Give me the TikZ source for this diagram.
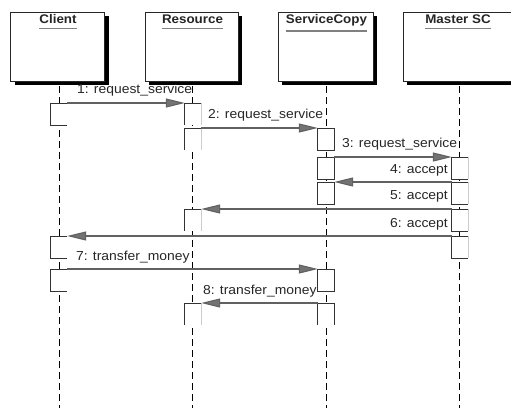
\documentclass[tikz,border=0pt]{standalone}
\usepackage{fontspec}
\setmainfont{Liberation Sans}[FakeStretch=1.07]
\usetikzlibrary{arrows.meta,shadows}

\begin{document}
\begin{tikzpicture}[x=1pt,y=-1pt,
  objbox/.style={draw=black!85, line width=0.9pt, fill=white,
    minimum width=#1, minimum height=69pt, inner sep=0pt,
    drop shadow={shadow xshift=4pt, shadow yshift=-4pt, fill=black, opacity=1}},
  objname/.style={anchor=base, inner sep=0pt, text=black!85,
    font=\fontsize{12.5}{14}\selectfont\bfseries},
  uline/.style={draw=black!50, line width=1.5pt},
  life/.style={draw=black, line width=0.9pt, dash pattern=on 7pt off 4pt},
  act/.style={minimum width=16pt, minimum height=22pt, inner sep=0pt,
    fill=white, anchor=north},
  actedge/.style={draw=black!80, line width=1pt},
  actfaint/.style={draw=black!20, line width=0.8pt},
  msg/.style={draw=black!62, line width=1.1pt,
    -{Triangle[length=19pt,width=9pt,fill=black!55]}},
  msglabel/.style={inner sep=0pt, text=black!85,
    font=\fontsize{13}{15}\selectfont},
]
\useasboundingbox (0,0) rectangle (511,407);
\clip (0,0) rectangle (511,407);

% lifelines
\foreach \n/\x in {C/59, R/192, S/326, M/459} {
  \coordinate (top\n) at (\x,86);
  \coordinate (bot\n) at (\x,410);
  \draw[life] (top\n) -- (bot\n);
}

% object boxes with drop shadows
\node[objbox=94pt] (bC) at (57.5,46.5) {};
\node[objbox=93pt] (bR) at (191.5,46.5) {};
\node[objbox=95pt] (bS) at (325.5,46.5) {};
\node[objbox=112pt] (bM) at (459,46.5) {};

% object names, underlined
\node[objname] (hC) at (58,23.5) {Client};
\node[objname] (hR) at (192.5,23.5) {Resource};
\node[objname] (hS) at (326.5,23.5) {ServiceCopy};
\node[objname] (hM) at (458,23.5) {Master SC};
\draw[uline] ([yshift=-4.5pt]hC.south west) -- ([yshift=-4.5pt]hC.south east);
\draw[uline] ([yshift=-4.5pt]hR.south west) -- ([yshift=-4.5pt]hR.south east);
\draw[uline] ([yshift=-4.5pt]hS.south west) -- ([yshift=-4.5pt]hS.south east);
\draw[uline] ([yshift=-4.5pt]hM.south west) -- ([yshift=-4.5pt]hM.south east);

% activation bars
\node[act] (c1) at (59,103) {};
\node[act] (c2) at (59,236) {};
\node[act] (c3) at (59,269) {};
\node[act] (r1) at (193,103) {};
\node[act] (r2) at (193,128) {};
\node[act] (r3) at (193,209) {};
\node[act] (r4) at (193,303) {};
\node[act] (s1) at (326,128) {};
\node[act] (s2) at (326,157) {};
\node[act] (s3) at (326,182) {};
\node[act] (s4) at (326,269) {};
\node[act] (s5) at (326,303) {};
\node[act] (m1) at (460,157) {};
\node[act] (m2) at (460,182) {};
\node[act] (m3) at (460,209) {};
\node[act] (m4) at (460,236) {};

\foreach \a in {c1,c2,c3}
  \draw[actedge] (\a.north east) -- (\a.north west) -- (\a.south west) -- (\a.south east);
\foreach \a in {r1,r2,r3,r4} {
  \draw[actfaint] (\a.north east) -- (\a.south east);
  \draw[actedge] (\a.north east) -- (\a.north west) -- (\a.south west);
}
\foreach \a in {s1,s2,s3,s4}
  \draw[actedge] (\a.north west) rectangle (\a.south east);
\draw[actedge] (s5.south west) -- (s5.north west) -- (s5.north east) -- (s5.south east);
\foreach \a in {m1,m2,m3,m4} {
  \draw[actfaint] (\a.north east) -- (\a.south east);
  \draw[actedge] (\a.north east) -- (\a.north west) -- (\a.south west) -- (\a.south east);
}

% messages
\draw[msg] (c1.north east) -- (r1.north west);
\draw[msg] (r2.north east) -- (s1.north west);
\draw[msg] (s2.north east) -- (m1.north west);
\draw[msg] (m2.north west) -- (s3.north east);
\draw[msg] (m3.north west) -- (r3.north east);
\draw[msg] (m4.north west) -- (c2.north east);
\draw[msg] (c3.north east) -- (s4.north west);
\draw[msg] (s5.north west) -- (r4.north east);

% message labels
\node[msglabel, anchor=base west] (l1) at (77,93) {1: request\_service};
\node[msglabel, anchor=base west] (l2) at (208,118.5) {2: request\_service};
\node[msglabel, anchor=base west] (l3) at (342,147) {3: request\_service};
\node[msglabel, anchor=base east] (l4) at (448,173) {4: accept};
\node[msglabel, anchor=base east] (l5) at (448,199.5) {5: accept};
\node[msglabel, anchor=base east] (l6) at (448,227) {6: accept};
\node[msglabel, anchor=base west] (l7) at (76,260) {7: transfer\_money};
\node[msglabel, anchor=base west] (l8) at (203,294.5) {8: transfer\_money};
\end{tikzpicture}
\end{document}
